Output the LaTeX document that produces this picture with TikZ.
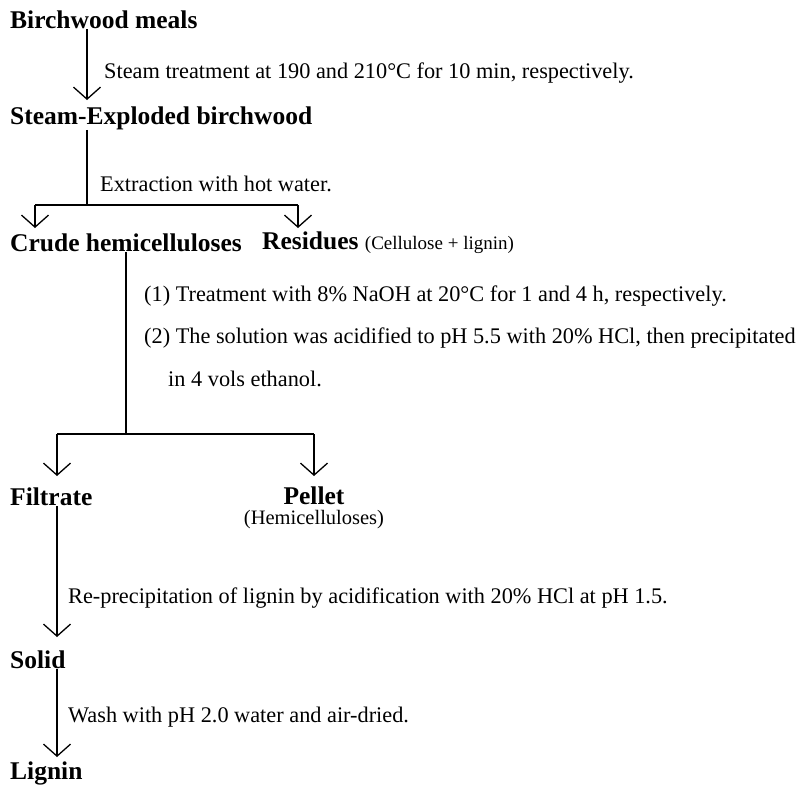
\documentclass[tikz,border=0pt]{standalone}
\usepackage{fontspec}
\setmainfont{Liberation Serif}
\usetikzlibrary{arrows.meta, positioning}

\begin{document}
\begin{tikzpicture}[x=1pt, y=-1pt,
  stage/.style={anchor=west, inner sep=0pt, font=\fontsize{25.5}{28}\selectfont\bfseries},
  note/.style={anchor=west, inner sep=0pt, font=\fontsize{22.3}{25}\selectfont},
  link/.style={line width=1.3pt},
  arr/.style={link, -{Straight Barb[length=12, width=27, line width=1.3pt]}}]
  \useasboundingbox (0,0) rectangle (802,785);

  % Steam explosion
  \node[stage] (birch) at (10,20) {Birchwood meals};
  \node[stage] (steamexp) at (10,118) {Steam-Exploded birchwood};
  \coordinate (tip1) at (87,100);
  \draw[arr] (birch.south -| tip1) -- (tip1);
  \node[note] (stlab) at (104,73) {Steam treatment at 190 and 210°C for 10 min, respectively.};

  % Hot water extraction
  \coordinate (split1) at (87,205);
  \coordinate (crudetip) at (35,228);
  \coordinate (restip) at (298,228);
  \node[stage] (crude) at (10,243) {Crude hemicelluloses};
  \node[stage] (resid) at (262,243) {Residues {\mdseries\fontsize{19}{22}\selectfont (Cellulose + lignin)}};
  \draw[link] (steamexp.south -| split1) -- (split1);
  \draw[link] (split1 -| crudetip) -- (split1 -| restip);
  \draw[arr] (split1 -| crudetip) -- (crudetip);
  \draw[arr] (split1 -| restip) -- (restip);
  \node[note] (exlab) at (100,184) {Extraction with hot water.};

  % Alkali treatment
  \coordinate (split2) at (126,434);
  \coordinate (filttip) at (57,476);
  \coordinate (pelltip) at (314,476);
  \node[note] (al1) at (144,296) {(1) Treatment with 8\% NaOH at 20°C for 1 and 4 h, respectively.};
  \node[note] (al2) at (144,338) {(2) The solution was acidified to pH 5.5 with 20\% HCl, then precipitated};
  \node[note] (al3) at (168,379) {in 4 vols ethanol.};
  \draw[link] (crude.south -| split2) -- (split2);
  \draw[link] (split2 -| filttip) -- (split2 -| pelltip);
  \draw[arr] (split2 -| filttip) -- (filttip);
  \draw[arr] (split2 -| pelltip) -- (pelltip);
  \node[stage] (filt) at (10,497) {Filtrate};
  \node[stage, anchor=center] (pell) at (314,496) {Pellet};
  \node[note, anchor=north, font=\fontsize{20.5}{23}\selectfont] (hemi) [below=5pt of pell] {(Hemicelluloses)};

  % Lignin recovery
  \coordinate (tip2) at (57,637);
  \coordinate (tip3) at (57,757);
  \node[stage] (solid) at (10,660) {Solid};
  \node[stage] (lignin) at (10,773) {Lignin};
  \draw[arr] (filt.south -| tip2) -- (tip2);
  \draw[arr] (solid.south -| tip3) -- (tip3);
  \node[note] (relab) at (68,598) {Re-precipitation of lignin by acidification with 20\% HCl at pH 1.5.};
  \node[note] (walab) at (68,717) {Wash with pH 2.0 water and air-dried.};
\end{tikzpicture}
\end{document}
